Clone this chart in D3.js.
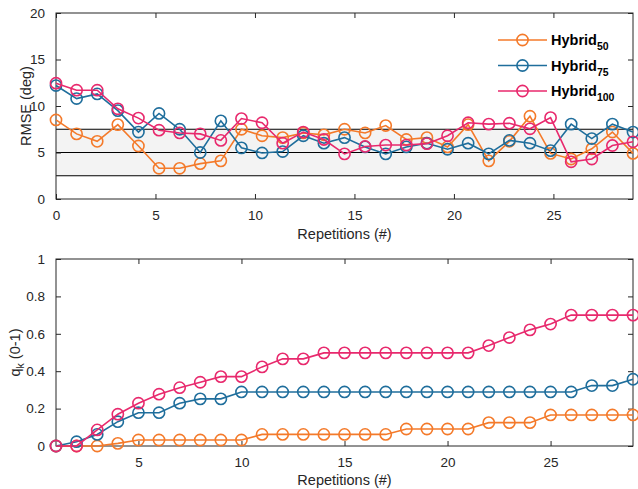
<!DOCTYPE html>
<html>
<head>
<meta charset="utf-8">
<script src="https://cdn.jsdelivr.net/npm/d3@7"></script>
<style>
  body { margin: 0; background: #fff; }
  svg { font-family: "Liberation Sans", Arial, sans-serif; }
  .tick text { fill: #262626; font-size: 13.5px; }
  .axis-label { fill: #262626; font-size: 14.5px; }
</style>
</head>
<body>
<div id="chart"></div>
<script>
// RMSE per repetition (top panel)
const rmseHybrid50 = [8.5, 7.0, 6.2, 8.0, 5.7, 3.3, 3.3, 3.8, 4.1, 7.5, 6.8, 6.6, 7.1, 6.9, 7.5,
  7.1, 7.9, 6.4, 6.6, 5.6, 8.0, 4.1, 6.2, 8.9, 4.9, 4.3, 5.4, 7.2, 4.9];
const rmseHybrid75 = [12.2, 10.8, 11.3, 9.5, 7.2, 9.2, 7.5, 5.0, 8.4, 5.5, 4.95, 5.1, 6.8, 6.0, 6.6,
  5.6, 4.85, 5.6, 6.0, 5.35, 6.0, 4.85, 6.3, 6.0, 5.2, 8.05, 6.5, 8.05, 7.2];
const rmseHybrid100 = [12.45, 11.7, 11.7, 9.7, 8.7, 7.4, 7.1, 7.0, 6.3, 8.65, 8.2, 6.0, 7.2, 6.4, 4.85,
  5.65, 5.8, 5.8, 5.95, 6.8, 8.2, 8.05, 8.15, 7.55, 8.75, 4.0, 4.3, 5.75, 6.15];

// q_k per repetition (bottom panel)
const reps = [1, 2, 3, 4, 5, 6, 7, 8, 9, 10, 11, 12, 13, 14, 15, 16, 17, 18, 19, 20,
  21, 22, 23, 24, 25, 26, 27, 28, 29];
const qHybrid50 = [0, 0, 0, 0.014, 0.032, 0.032, 0.032, 0.032, 0.032, 0.032, 0.062, 0.062, 0.062, 0.062, 0.062,
  0.062, 0.062, 0.091, 0.091, 0.091, 0.091, 0.125, 0.125, 0.125, 0.166, 0.166, 0.166, 0.166, 0.166];
const qHybrid75 = [0, 0.023, 0.062, 0.13, 0.178, 0.178, 0.229, 0.252, 0.252, 0.289, 0.289, 0.289, 0.289, 0.289, 0.289,
  0.289, 0.289, 0.289, 0.289, 0.289, 0.289, 0.289, 0.289, 0.289, 0.289, 0.289, 0.323, 0.323, 0.357];
const qHybrid100 = [0, 0, 0.086, 0.17, 0.229, 0.277, 0.312, 0.341, 0.371, 0.371, 0.423, 0.466, 0.466, 0.498, 0.498,
  0.498, 0.498, 0.498, 0.498, 0.498, 0.498, 0.537, 0.58, 0.621, 0.652, 0.7, 0.7, 0.7, 0.7];

const seriesNames = ['Hybrid', 'Hybrid', 'Hybrid'];
const seriesSubs = ['50', '75', '100'];
const seriesColors = ['#f47a2a', '#1f6e9c', '#e8296d'];

const bandLines = [2.5, 5, 7.5];
const topYTicks = [0, 5, 10, 15, 20];
const topXTicks = [0, 5, 10, 15, 20, 25];
const botYTicks = [0, 0.2, 0.4, 0.6, 0.8, 1];
const botXTicks = [5, 10, 15, 20, 25];

const width = 638, height = 489;
const left = 56, right = 633;
const axisColor = '#262626';

const svg = d3.select('#chart').append('svg')
    .attr('width', width)
    .attr('height', height);

function drawFrame(g, x, y, xTicks, yTicks, yFmt) {
  const [x0, x1] = x.range();
  const [y0, y1] = y.range();
  const tl = 5;
  // bottom / left axes with inward ticks
  g.append('g')
      .attr('transform', `translate(0,${y0})`)
      .call(d3.axisBottom(x).tickValues(xTicks).tickSizeInner(-tl).tickSizeOuter(0).tickPadding(11))
      .call(a => a.select('.domain').remove());
  g.append('g')
      .attr('transform', `translate(${x0},0)`)
      .call(d3.axisLeft(y).tickValues(yTicks).tickFormat(yFmt).tickSizeInner(-tl).tickSizeOuter(0).tickPadding(11))
      .call(a => a.select('.domain').remove());
  // mirrored ticks top/right
  g.append('g')
      .attr('transform', `translate(0,${y1})`)
      .call(d3.axisTop(x).tickValues(xTicks).tickSizeInner(-tl).tickSizeOuter(0).tickFormat(''))
      .call(a => a.select('.domain').remove());
  g.append('g')
      .attr('transform', `translate(${x1},0)`)
      .call(d3.axisRight(y).tickValues(yTicks).tickSizeInner(-tl).tickSizeOuter(0).tickFormat(''))
      .call(a => a.select('.domain').remove());
  g.selectAll('.tick line').attr('stroke', axisColor);
  g.selectAll('.tick text').attr('fill', axisColor).style('font-size', '13.5px');
  g.append('rect')
      .attr('x', x0).attr('y', y1)
      .attr('width', x1 - x0).attr('height', y0 - y1)
      .attr('fill', 'none')
      .attr('stroke', axisColor)
      .attr('stroke-width', 1);
}

function drawSeries(g, xs, y, values, color) {
  const line = d3.line().x((d, i) => xs(i)).y(d => y(d));
  g.append('path')
      .datum(values)
      .attr('d', line)
      .attr('fill', 'none')
      .attr('stroke', color)
      .attr('stroke-width', 1.6);
  g.selectAll(null)
      .data(values)
    .join('circle')
      .attr('cx', (d, i) => xs(i))
      .attr('cy', d => y(d))
      .attr('r', 5.6)
      .attr('fill', 'none')
      .attr('stroke', color)
      .attr('stroke-width', 1.6);
}

// ---------- top panel ----------
const topG = svg.append('g');
const xTop = d3.scaleLinear().domain([0, 29]).range([left, right]);
const yTop = d3.scaleLinear().domain([0, 20]).range([199, 13]);
// points are spread evenly over the full axis
const xTopIdx = d3.scaleLinear().domain([0, rmseHybrid50.length - 1]).range(xTop.range());

topG.append('rect')
    .attr('x', left)
    .attr('y', yTop(d3.max(bandLines)))
    .attr('width', right - left)
    .attr('height', yTop(d3.min(bandLines)) - yTop(d3.max(bandLines)))
    .attr('fill', '#f3f3f3');
topG.selectAll('.band-line')
    .data(bandLines)
  .join('line')
    .attr('class', 'band-line')
    .attr('x1', left).attr('x2', right)
    .attr('y1', d => yTop(d)).attr('y2', d => yTop(d))
    .attr('stroke', '#000')
    .attr('stroke-width', 1.2);

drawFrame(topG, xTop, yTop, topXTicks, topYTicks, d3.format('d'));

[rmseHybrid50, rmseHybrid75, rmseHybrid100].forEach((s, k) => drawSeries(topG, xTopIdx, yTop, s, seriesColors[k]));

topG.append('text')
    .attr('class', 'axis-label')
    .attr('text-anchor', 'middle')
    .attr('x', (left + right) / 2)
    .attr('y', 239)
    .text('Repetitions (#)');
topG.append('text')
    .attr('class', 'axis-label')
    .attr('text-anchor', 'middle')
    .attr('transform', `translate(31,${(yTop.range()[0] + yTop.range()[1]) / 2}) rotate(-90)`)
    .text('RMSE (deg)');

// legend
const legend = topG.append('g').attr('transform', 'translate(498,40)');
seriesSubs.forEach((sub, k) => {
  const row = legend.append('g').attr('transform', `translate(0,${k * 25.5})`);
  row.append('line')
      .attr('x1', 0).attr('x2', 49)
      .attr('stroke', seriesColors[k]).attr('stroke-width', 1.6);
  row.append('circle')
      .attr('cx', 24.5).attr('r', 5.6)
      .attr('fill', 'none').attr('stroke', seriesColors[k]).attr('stroke-width', 1.6);
  const t = row.append('text')
      .attr('x', 53).attr('y', 5)
      .attr('fill', '#000')
      .style('font-weight', 'bold')
      .style('font-size', '14.5px');
  t.append('tspan').text(seriesNames[k]);
  t.append('tspan').attr('dy', 5).style('font-size', '10.5px').text(sub);
});

// ---------- bottom panel ----------
const botG = svg.append('g');
const xBot = d3.scaleLinear().domain([1, 29]).range([left, right]);
const yBot = d3.scaleLinear().domain([0, 1]).range([446, 259]);
const xBotIdx = i => xBot(reps[i]);

drawFrame(botG, xBot, yBot, botXTicks, botYTicks, d => d === 0 || d === 1 ? d3.format('d')(d) : d3.format('.1f')(d));

[qHybrid50, qHybrid75, qHybrid100].forEach((s, k) => drawSeries(botG, xBotIdx, yBot, s, seriesColors[k]));

botG.append('text')
    .attr('class', 'axis-label')
    .attr('text-anchor', 'middle')
    .attr('x', (left + right) / 2)
    .attr('y', 485)
    .text('Repetitions (#)');
const qLabel = botG.append('text')
    .attr('class', 'axis-label')
    .attr('text-anchor', 'middle')
    .attr('transform', `translate(20,${(yBot.range()[0] + yBot.range()[1]) / 2}) rotate(-90)`);
qLabel.append('tspan').text('q');
qLabel.append('tspan').attr('dy', 4).style('font-size', '10.5px').text('k');
qLabel.append('tspan').attr('dy', -4).text(' (0-1)');
</script>
</body>
</html>
